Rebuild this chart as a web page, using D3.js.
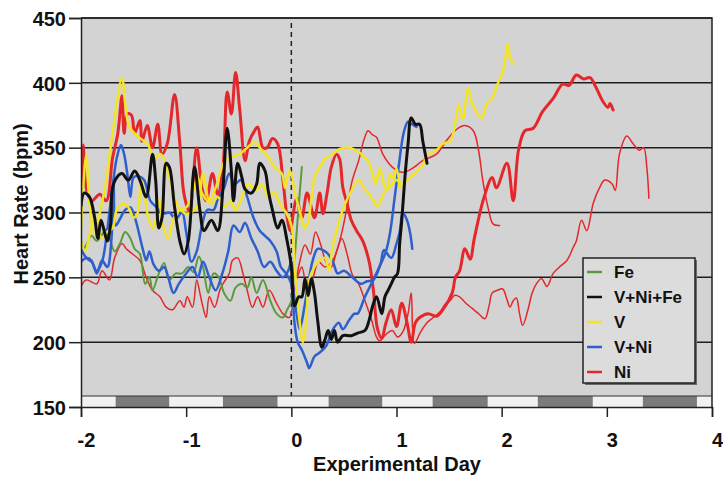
<!DOCTYPE html>
<html>
<head>
<meta charset="utf-8">
<script src="https://cdn.jsdelivr.net/npm/d3@7"></script>
<style>
  body { margin: 0; background: #fff; }
  svg { display: block; font-family: 'Liberation Sans', Arial, sans-serif; font-weight: bold; }
</style>
</head>
<body>
<svg id="chart" width="723" height="477"></svg>
<script>
// Each trace is a list of [experimental day, heart rate in bpm].
const feTrace = [[-2.00,268],[-1.95,275],[-1.90,282],[-1.85,278],[-1.80,283],[-1.76,287],[-1.72,278],[-1.68,270],[-1.63,276],[-1.58,285],[-1.53,280],[-1.49,272],[-1.44,268],[-1.39,245],[-1.35,250],[-1.32,240],[-1.26,253],[-1.21,261],[-1.16,248],[-1.10,253],[-1.04,253],[-0.98,258],[-0.93,254],[-0.88,266],[-0.84,258],[-0.79,238],[-0.74,253],[-0.69,250],[-0.64,238],[-0.58,232],[-0.53,242],[-0.47,245],[-0.42,242],[-0.38,250],[-0.33,238],[-0.27,248],[-0.20,232],[-0.14,222],[-0.08,219],[-0.04,225],[0.00,232],[0.03,262],[0.06,295],[0.10,335]];

const vniFeTrace = [[-2.00,305],[-1.97,315],[-1.92,312],[-1.87,296],[-1.84,280],[-1.81,294],[-1.78,286],[-1.75,278],[-1.72,290],[-1.70,319],[-1.66,327],[-1.61,330],[-1.55,325],[-1.49,332],[-1.44,325],[-1.38,312],[-1.32,345],[-1.29,325],[-1.26,288],[-1.23,296],[-1.19,338],[-1.16,335],[-1.11,304],[-1.06,278],[-1.02,268],[-0.98,278],[-0.92,335],[-0.87,302],[-0.83,286],[-0.76,294],[-0.70,286],[-0.65,319],[-0.61,365],[-0.57,332],[-0.55,309],[-0.51,338],[-0.47,327],[-0.44,318],[-0.38,315],[-0.33,322],[-0.30,338],[-0.25,332],[-0.22,317],[-0.18,302],[-0.13,288],[-0.09,294],[-0.04,278],[0.00,258],[0.03,228],[0.07,235],[0.10,235],[0.13,249],[0.16,236],[0.19,249],[0.22,238],[0.25,217],[0.29,196],[0.32,202],[0.35,209],[0.38,202],[0.41,209],[0.44,200],[0.49,205],[0.57,205],[0.63,207],[0.70,209],[0.74,217],[0.77,227],[0.81,235],[0.86,222],[0.89,235],[0.92,240],[0.95,245],[0.98,250],[1.01,253],[1.03,276],[1.05,294],[1.08,327],[1.11,353],[1.14,373],[1.18,368],[1.22,368],[1.25,355],[1.29,338]];

const vTraceA = [[-2.00,286],[-1.98,319],[-1.95,344],[-1.92,307],[-1.87,284],[-1.82,300],[-1.76,325],[-1.70,361],[-1.61,404],[-1.58,384],[-1.54,366],[-1.45,358],[-1.37,353],[-1.30,342],[-1.24,345],[-1.16,327],[-1.09,307],[-1.00,299],[-0.90,304],[-0.84,330],[-0.78,309],[-0.72,319],[-0.63,340],[-0.56,343],[-0.49,345],[-0.42,350],[-0.35,354],[-0.28,348],[-0.22,343],[-0.16,335],[-0.09,330],[-0.06,319],[-0.02,332],[0.00,330],[0.03,317],[0.08,301],[0.13,288],[0.16,293],[0.19,311],[0.22,327],[0.27,335],[0.33,342],[0.41,346],[0.46,349],[0.55,350],[0.65,346],[0.70,342],[0.74,338],[0.77,330],[0.80,322],[0.84,334],[0.88,322],[0.91,317],[0.94,330],[0.97,326],[1.00,334],[1.03,319]];

const vTraceB = [[-2.00,278],[-1.96,270],[-1.92,282],[-1.87,296],[-1.80,280],[-1.75,285],[-1.70,288],[-1.66,302],[-1.60,307],[-1.55,304],[-1.50,296],[-1.46,300],[-1.43,325],[-1.40,317],[-1.36,296],[-1.31,288],[-1.26,310],[-1.22,290],[-1.17,280],[-1.12,295],[-1.06,302],[-1.00,304],[-0.95,312],[-0.89,327],[-0.85,315],[-0.76,307],[-0.70,312],[-0.63,304],[-0.58,309],[-0.53,302],[-0.47,312],[-0.41,322],[-0.34,317],[-0.28,322],[-0.22,312],[-0.16,315],[-0.10,305],[-0.05,300],[0.00,290],[0.04,250],[0.08,215],[0.11,200],[0.14,215],[0.17,248],[0.22,258],[0.27,263],[0.32,265],[0.36,255],[0.39,273],[0.43,286],[0.48,300],[0.53,310],[0.58,318],[0.64,325],[0.70,318],[0.76,312],[0.82,305],[0.88,315],[0.94,320],[1.00,325],[1.05,322],[1.10,325],[1.17,330],[1.24,335],[1.30,345],[1.38,348],[1.44,353],[1.51,355],[1.55,365],[1.59,383],[1.63,372],[1.68,396],[1.72,384],[1.81,373],[1.86,384],[1.91,388],[1.96,399],[2.01,408],[2.06,430],[2.08,419],[2.11,415]];

const vniTraceA = [[-2.00,272],[-1.95,265],[-1.90,262],[-1.85,255],[-1.80,262],[-1.76,280],[-1.73,300],[-1.70,320],[-1.66,342],[-1.62,352],[-1.59,345],[-1.56,330],[-1.53,312],[-1.50,327],[-1.45,328],[-1.40,325],[-1.34,309],[-1.28,304],[-1.22,299],[-1.16,300],[-1.10,295],[-1.04,300],[-1.00,285],[-0.95,262],[-0.90,270],[-0.85,290],[-0.80,302],[-0.74,302],[-0.70,310],[-0.64,319],[-0.59,330],[-0.54,322],[-0.48,325],[-0.42,312],[-0.36,296],[-0.30,286],[-0.25,282],[-0.20,278],[-0.14,270],[-0.10,258],[-0.05,253],[0.00,245],[0.03,215],[0.06,200],[0.10,194],[0.15,184],[0.17,180],[0.22,189],[0.27,192],[0.33,197],[0.39,209],[0.45,215],[0.49,210],[0.55,217],[0.60,222],[0.63,222],[0.70,235],[0.76,245],[0.82,255],[0.86,262],[0.90,270],[0.94,285],[0.98,310],[1.02,335],[1.07,362],[1.11,370],[1.15,368],[1.19,366]];

const vniTraceB = [[-2.00,262],[-1.95,265],[-1.90,263],[-1.85,253],[-1.80,263],[-1.75,258],[-1.71,280],[-1.69,322],[-1.67,290],[-1.63,295],[-1.58,302],[-1.53,304],[-1.48,294],[-1.44,281],[-1.41,271],[-1.38,263],[-1.35,270],[-1.31,260],[-1.26,255],[-1.21,258],[-1.17,250],[-1.12,238],[-1.07,245],[-1.00,253],[-0.94,258],[-0.89,250],[-0.84,262],[-0.78,250],[-0.72,240],[-0.66,252],[-0.60,270],[-0.55,290],[-0.49,285],[-0.44,292],[-0.38,280],[-0.32,270],[-0.26,258],[-0.20,262],[-0.14,255],[-0.08,250],[-0.03,255],[0.00,262],[0.02,240],[0.05,222],[0.08,210],[0.12,225],[0.16,245],[0.20,262],[0.25,272],[0.30,271],[0.35,268],[0.40,261],[0.44,253],[0.50,255],[0.58,250],[0.66,245],[0.72,247],[0.78,248],[0.85,261],[0.88,271],[0.95,265],[1.00,276],[1.03,285],[1.06,300],[1.10,294],[1.13,284],[1.15,272]];

// Ni: one thick trace and two thin ones
const niTraceA = [[-2.00,300],[-1.98,352],[-1.95,319],[-1.90,309],[-1.82,314],[-1.76,309],[-1.70,342],[-1.65,361],[-1.61,390],[-1.59,361],[-1.56,376],[-1.52,375],[-1.49,361],[-1.44,371],[-1.42,355],[-1.37,367],[-1.32,350],[-1.27,368],[-1.23,345],[-1.18,353],[-1.11,391],[-1.06,353],[-1.02,314],[-0.97,301],[-0.90,350],[-0.85,319],[-0.81,309],[-0.75,330],[-0.70,314],[-0.65,335],[-0.61,393],[-0.57,376],[-0.53,408],[-0.49,379],[-0.44,340],[-0.40,355],[-0.35,363],[-0.32,366],[-0.27,350],[-0.23,350],[-0.18,357],[-0.13,353],[-0.08,325],[-0.04,296],[-0.01,286],[0.02,300],[0.05,311],[0.10,296],[0.15,315],[0.22,296],[0.27,315],[0.30,299],[0.34,315],[0.38,335],[0.43,345],[0.46,341],[0.49,319],[0.53,307],[0.57,294],[0.62,286],[0.68,278],[0.74,262],[0.78,240],[0.82,210],[0.86,203],[0.90,215],[0.95,225],[1.00,212],[1.05,230],[1.10,215],[1.14,200],[1.18,215],[1.22,219],[1.30,222],[1.38,220],[1.44,225],[1.53,238],[1.56,250],[1.60,255],[1.65,272],[1.70,264],[1.74,280],[1.83,311],[1.91,327],[1.95,319],[2.05,338],[2.11,309],[2.16,348],[2.22,363],[2.30,365],[2.39,378],[2.49,388],[2.58,399],[2.64,398],[2.71,406],[2.78,403],[2.84,404],[2.90,396],[2.96,386],[3.01,381],[3.03,384],[3.06,379]];

const niTraceB = [[-2.00,243],[-1.95,248],[-1.85,245],[-1.80,255],[-1.73,248],[-1.68,265],[-1.61,276],[-1.57,272],[-1.51,268],[-1.44,263],[-1.38,250],[-1.32,240],[-1.25,235],[-1.19,227],[-1.13,225],[-1.06,232],[-1.02,227],[-0.99,235],[-0.94,227],[-0.90,248],[-0.87,238],[-0.84,227],[-0.81,219],[-0.78,235],[-0.73,227],[-0.68,240],[-0.65,245],[-0.59,253],[-0.56,263],[-0.51,265],[-0.46,253],[-0.42,240],[-0.37,227],[-0.32,235],[-0.27,227],[-0.21,240],[-0.14,230],[-0.08,222],[-0.02,219],[0.03,240],[0.08,262],[0.13,275],[0.18,268],[0.23,285],[0.28,275],[0.33,262],[0.38,258],[0.43,270],[0.48,280],[0.53,268],[0.58,252],[0.64,245],[0.70,232],[0.76,218],[0.81,204],[0.84,201],[0.90,206],[0.96,209],[1.01,204],[1.06,208],[1.11,222],[1.14,238],[1.17,199],[1.23,208],[1.29,215],[1.35,219],[1.41,223],[1.47,230],[1.51,232],[1.55,236],[1.60,235],[1.66,230],[1.72,226],[1.78,222],[1.84,218],[1.88,228],[1.91,238],[1.96,240],[2.01,241],[2.05,233],[2.08,227],[2.11,232],[2.14,234],[2.17,222],[2.20,213],[2.25,225],[2.29,238],[2.33,245],[2.38,249],[2.43,243],[2.49,253],[2.55,258],[2.62,263],[2.68,273],[2.71,278],[2.76,294],[2.81,286],[2.87,307],[2.93,319],[2.98,325],[3.05,322],[3.08,317],[3.12,345],[3.19,359],[3.25,353],[3.31,348],[3.35,350],[3.38,335],[3.40,311]];

const niTraceC = [[0.00,262],[0.05,250],[0.10,258],[0.15,240],[0.20,248],[0.26,262],[0.32,258],[0.40,264],[0.46,278],[0.52,300],[0.58,325],[0.64,340],[0.69,356],[0.73,363],[0.77,360],[0.81,358],[0.87,345],[0.96,335],[1.06,331],[1.15,334],[1.25,340],[1.38,345],[1.47,355],[1.57,364],[1.65,367],[1.73,363],[1.78,348],[1.82,325],[1.87,304],[1.92,291],[1.98,290]];

// light/dark cycle boundaries (days), starting with a light period
const cycleEdges = [-2, -1.67, -1.16, -0.65, -0.13, 0.355, 0.866, 1.344, 1.868, 2.344, 2.867, 3.343, 3.857, 4];

const dayTicks = [-2, -1, 0, 1, 2, 3, 4];
const bpmTicks = [150, 200, 250, 300, 350, 400, 450];
const legendNames = ['Fe', 'V+Ni+Fe', 'V', 'V+Ni', 'Ni'];
const legendColors = ['#5b9a3e', '#111111', '#f3e424', '#2f5fcc', '#e4272b'];

const svg = d3.select('#chart');

const x = d3.scaleLinear().domain([-2, 4]).range([81, 712]);
const y = d3.scaleLinear().domain([150, 450]).range([407, 18]);

// plot background
svg.append('rect')
  .attr('x', x(-2)).attr('y', y(450))
  .attr('width', x(4) - x(-2)).attr('height', y(150) - y(450))
  .attr('fill', '#d3d3d3');

// light / dark bar along the bottom
const bandTop = 396;
svg.append('g')
  .selectAll('rect')
  .data(d3.pairs(cycleEdges))
  .enter()
  .append('rect')
  .attr('x', d => x(d[0]))
  .attr('y', bandTop)
  .attr('width', d => x(d[1]) - x(d[0]))
  .attr('height', y(150) - bandTop)
  .attr('fill', (d, i) => (i % 2 === 0 ? '#f1f1f1' : '#7b7b7b'));

svg.append('line')
  .attr('x1', x(-2)).attr('x2', x(4))
  .attr('y1', bandTop).attr('y2', bandTop)
  .attr('stroke', '#333').attr('stroke-width', 1.2);

// horizontal grid lines
svg.append('g')
  .selectAll('line')
  .data(bpmTicks.filter(v => v > 150))
  .enter()
  .append('line')
  .attr('x1', x(-2)).attr('x2', x(4))
  .attr('y1', d => y(d)).attr('y2', d => y(d))
  .attr('stroke', '#1e1e1e').attr('stroke-width', 1.5);

// exposure marker
svg.append('line')
  .attr('x1', x(0)).attr('x2', x(0))
  .attr('y1', 23).attr('y2', bandTop)
  .attr('stroke', '#222').attr('stroke-width', 1.5)
  .attr('stroke-dasharray', '5,4');

svg.append('clipPath').attr('id', 'plot-clip')
  .append('rect')
  .attr('x', x(-2)).attr('y', y(450))
  .attr('width', x(4) - x(-2)).attr('height', bandTop - y(450));

const line = d3.line()
  .x(d => x(d[0]))
  .y(d => y(d[1]))
  .curve(d3.curveCatmullRom.alpha(0.5));

// drawing order: thin reds at the back, black on top
const traces = [
  { data: niTraceB, color: legendColors[4], width: 1.5 },
  { data: niTraceC, color: legendColors[4], width: 1.5 },
  { data: niTraceA, color: legendColors[4], width: 3 },
  { data: feTrace, color: legendColors[0], width: 2 },
  { data: vniTraceB, color: legendColors[3], width: 2.5 },
  { data: vniTraceA, color: legendColors[3], width: 2.5 },
  { data: vTraceB, color: legendColors[2], width: 2.5 },
  { data: vTraceA, color: legendColors[2], width: 2.5 },
  { data: vniFeTrace, color: legendColors[1], width: 3 }
];

svg.append('g')
  .attr('clip-path', 'url(#plot-clip)')
  .selectAll('path')
  .data(traces)
  .enter()
  .append('path')
  .attr('d', d => line(d.data))
  .attr('fill', 'none')
  .attr('stroke', d => d.color)
  .attr('stroke-width', d => d.width)
  .attr('stroke-linejoin', 'round')
  .attr('stroke-linecap', 'round');

// frame: top and right edges
svg.append('path')
  .attr('d', `M${x(-2)},${y(450)}H${x(4)}V${y(150)}`)
  .attr('fill', 'none').attr('stroke', '#222').attr('stroke-width', 1.5);

// axes
const yAxis = svg.append('g')
  .attr('transform', `translate(${x(-2)},0)`)
  .call(d3.axisLeft(y).tickValues(bpmTicks).tickSize(12).tickPadding(3).tickFormat(d => String(d)));

const xAxis = svg.append('g')
  .attr('transform', `translate(0,${y(150)})`)
  .call(d3.axisBottom(x).tickValues(dayTicks).tickSize(10).tickPadding(16).tickFormat(d => String(d)));

[yAxis, xAxis].forEach(g => {
  g.select('.domain').attr('stroke', '#222').attr('stroke-width', 1.5);
  g.selectAll('.tick line').attr('stroke', '#222').attr('stroke-width', 1.5);
  g.selectAll('.tick text')
    .attr('fill', '#111')
    .style('font-size', '20px')
    .style('font-weight', 'bold')
    .style('font-family', "'Liberation Sans', Arial, sans-serif");
});
yAxis.selectAll('.tick text').attr('dy', '0.36em');
xAxis.selectAll('.tick text').attr('dx', 5);

// axis titles
svg.append('text')
  .attr('x', 397).attr('y', 471)
  .attr('text-anchor', 'middle')
  .style('font-size', '20px')
  .attr('fill', '#111')
  .text('Experimental Day');

svg.append('text')
  .attr('transform', 'translate(28,204) rotate(-90)')
  .attr('text-anchor', 'middle')
  .style('font-size', '20px')
  .attr('fill', '#111')
  .text('Heart Rate (bpm)');

// legend
const legend = svg.append('g').attr('transform', 'translate(583,258)');
legend.append('rect')
  .attr('x', 2).attr('y', 2).attr('width', 112).attr('height', 125)
  .attr('fill', '#6a6a6a');
legend.append('rect')
  .attr('width', 112).attr('height', 125)
  .attr('fill', '#dcdcdc').attr('stroke', '#222').attr('stroke-width', 1.5);

const item = legend.selectAll('g.item')
  .data(legendNames)
  .enter()
  .append('g')
  .attr('class', 'item')
  .attr('transform', (d, i) => `translate(0,${14 + i * 25})`);

item.append('line')
  .attr('x1', 4).attr('x2', 19)
  .attr('stroke', (d, i) => legendColors[i])
  .attr('stroke-width', 2.5);

item.append('text')
  .attr('x', 31).attr('dy', '0.36em')
  .style('font-size', '17px')
  .attr('fill', '#111')
  .text(d => d);
</script>
</body>
</html>
